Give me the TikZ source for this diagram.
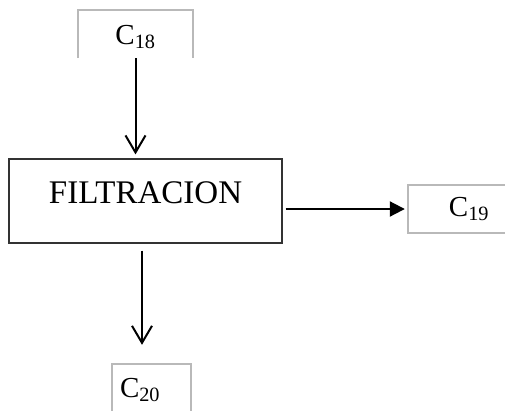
\documentclass[tikz,border=0pt]{standalone}
\usepackage{fontspec}
\setmainfont{Liberation Serif}
\usetikzlibrary{arrows.meta, positioning, calc}
\tikzset{
  procbox/.style={
    draw=black!80, line width=1.2pt, minimum width=273pt, minimum height=84pt,
    font=\fontsize{33}{39}\selectfont, text height=22pt, text depth=17pt
  },
  streambox/.style={minimum height=48pt, inner sep=0pt, font=\fontsize{29}{34}\selectfont},
  frame/.style={draw=gray!55, line width=2.4pt},
  flow/.style={line width=2pt, -{Straight Barb[length=17pt,width=20pt,line width=2pt]}},
  outflow/.style={line width=2pt, -{Triangle[length=15pt,width=15pt]}},
}

\begin{document}
\begin{tikzpicture}[x=1pt, y=-1pt]
  \useasboundingbox (0,0) rectangle (505,410);

  % Process
  \node[procbox] (filt) at (145.5,201) {FILTRACION};

  % Streams
  \node[streambox, minimum width=115pt, text height=25pt, text depth=5pt] (c18) at (135.5,34) {C\textsubscript{18}};
  \node[streambox, minimum width=122pt] (c19) at (469,209) {C\textsubscript{19}};
  \node[streambox, minimum width=79pt, minimum height=52pt, text width=63pt, align=left]
    (c20) at (151.5,390) {C\textsubscript{20}};

  % Frames
  \draw[frame] (c18.south west) -- (c18.north west) -- (c18.north east) -- (c18.south east);
  \draw[frame] (c19.north east) -- (c19.north west) -- (c19.south west) -- (c19.south east);
  \draw[frame] (c20.south west) -- (c20.north west) -- (c20.north east) -- (c20.south east);

  % Flows
  \draw[flow, shorten >=4pt] (c18.south) -- (c18.south |- filt.north);
  \draw[outflow] ([xshift=3pt]filt.east |- c19.west) -- ([xshift=-3pt]c19.west);
  \draw[flow, shorten >=19pt] ([xshift=-3.5pt,yshift=-7pt]filt.south)
    -- ([xshift=-3.5pt]filt.south |- c20.north);
\end{tikzpicture}
\end{document}
